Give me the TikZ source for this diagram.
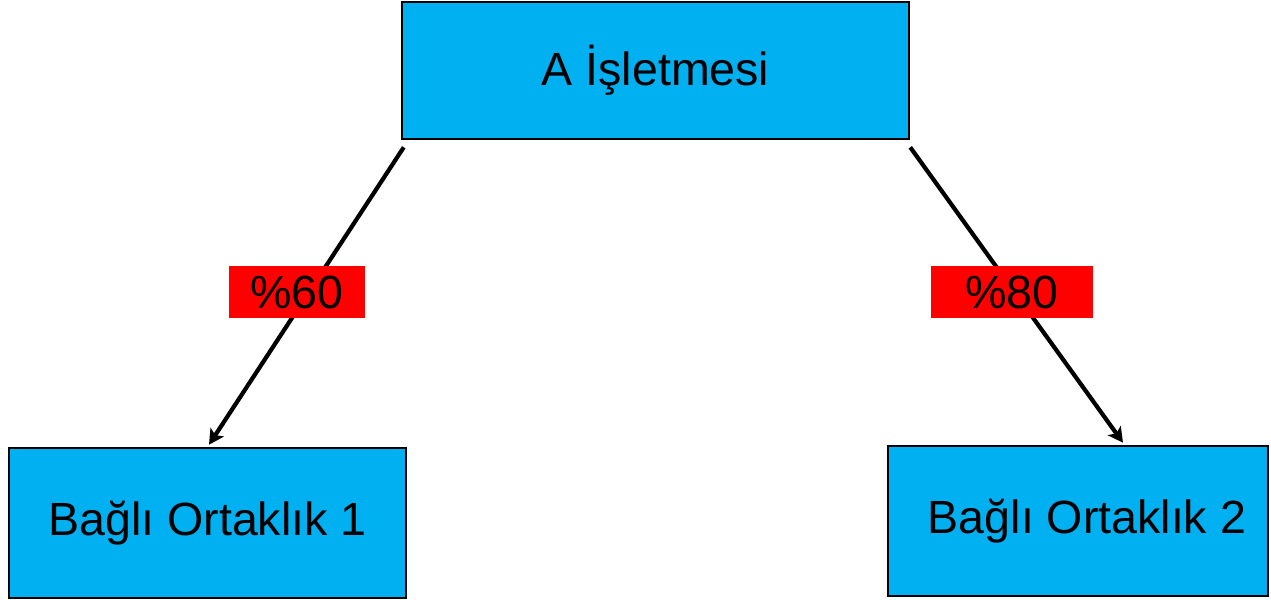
\documentclass[tikz,border=0pt]{standalone}
\usepackage{fontspec}
\setmainfont{Liberation Sans}
\usetikzlibrary{arrows.meta}
\definecolor{boxcol}{HTML}{00B0F0}
\definecolor{pctcol}{HTML}{FF0000}
\begin{document}
\begin{tikzpicture}[x=0.02cm,y=-0.02cm,
  >={Stealth[length=8.5pt,width=9pt,inset=2pt]},
  unit/.style={draw=black,line width=1.5pt,fill=boxcol,inner sep=0pt,
    font=\fontsize{26.5}{30}\selectfont},
  share/.style={fill=pctcol,inner sep=0pt,minimum height=1.04cm,
    font=\fontsize{26.5}{30}\selectfont},
  link/.style={->,line width=2.4pt}]
  \useasboundingbox (0,0) rectangle (1271,599);
%%
  % Node: A Isletmesi
  \node[unit,minimum width=10.14cm,minimum height=2.74cm] (parent) at (655.5,70.5) {A İşletmesi};
  % Node: Bagli Ortaklik 1
  \node[unit,minimum width=7.94cm,minimum height=3.0cm] (sub1) at (207.5,523) {Bağlı Ortaklık 1};
  % Node: Bagli Ortaklik 2
  \node[unit,minimum width=7.6cm,minimum height=3.0cm] (sub2) at (1078,521) {\hspace*{0.36cm}Bağlı Ortaklık 2};
  % Edge: A Isletmesi -> Bagli Ortaklik 1
  \draw[link] ([xshift=0.06cm,yshift=-0.14cm]parent.south west) -- ([xshift=0.03cm,yshift=0.04cm]sub1.north);
  % Edge: A Isletmesi -> Bagli Ortaklik 2
  \draw[link] ([yshift=-0.14cm]parent.south east) -- ([xshift=0.9cm,yshift=0.04cm]sub2.north);
  % Labels
  \node[share,minimum width=2.72cm] (p60) at (297,292) {\%60};
  \node[share,minimum width=3.24cm] (p80) at (1012,292) {\%80};
%
\end{tikzpicture}
\end{document}
